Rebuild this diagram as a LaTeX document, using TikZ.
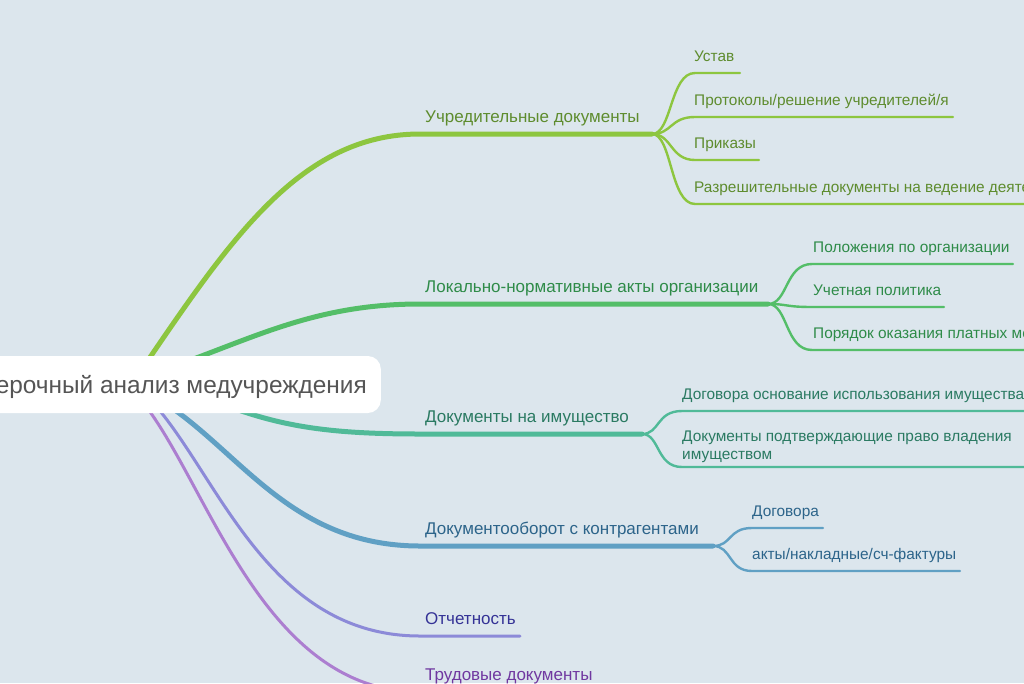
\documentclass[tikz,border=0pt]{standalone}
\usepackage{fontspec}
\setmainfont{Liberation Sans}
\definecolor{bgc}{RGB}{220,230,237}
\definecolor{ca}{RGB}{141,198,63}\definecolor{ta}{RGB}{94,140,46}
\definecolor{cb}{RGB}{84,190,104}\definecolor{tb}{RGB}{46,139,72}
\definecolor{cc}{RGB}{80,186,152}\definecolor{tc}{RGB}{42,122,98}
\definecolor{cd}{RGB}{96,160,196}\definecolor{td}{RGB}{44,100,138}
\definecolor{ce}{RGB}{140,138,216}\definecolor{te}{RGB}{52,50,150}
\definecolor{cf}{RGB}{172,126,208}\definecolor{tf}{RGB}{112,56,160}
\definecolor{roottext}{RGB}{85,85,85}
\begin{document}
\begin{tikzpicture}[x=1pt,y=-1pt,
  brline/.style={line width=5pt,line cap=round},
  thinbr/.style={line width=3pt,line cap=round},
  chline/.style={line width=2.4pt,line cap=round},
  mainlbl/.style={anchor=base west,inner sep=0pt,font=\fontsize{17}{20}\selectfont},
  chlbl/.style={anchor=base west,inner sep=0pt,font=\fontsize{15.4}{18}\selectfont,align=left}]
\fill[bgc] (0,0) rectangle (1024,683);
\useasboundingbox (0,0) rectangle (1024,683);

% root anchor points
\coordinate (ra) at (140,372);
\coordinate (rb) at (180,364);
\coordinate (rc) at (200,395);
\coordinate (rd) at (160,400);
\coordinate (re) at (155,405);
\coordinate (rf) at (145,405);

% branch fork coordinates
\coordinate (fa) at (652,134);
\coordinate (fb) at (768,304);
\coordinate (fc) at (642,434);
\coordinate (fd) at (713,546);
\coordinate (fe) at (520,636);
\coordinate (ff) at (600,692);

% main branches
\draw[brline,ca] (ra) .. controls (230,240) and (300,134) .. (420,134) -- (fa);
\draw[brline,cb] (rb) .. controls (260,335) and (320,304) .. (420,304) -- (fb);
\draw[brline,cc] (rc) .. controls (270,425) and (320,434) .. (420,434) -- (fc);
\draw[brline,cd] (rd) .. controls (240,450) and (290,546) .. (420,546) -- (fd);
\draw[thinbr,ce] (re) .. controls (220,480) and (270,636) .. (420,636) -- (fe);
\draw[thinbr,cf] (rf) .. controls (210,490) and (265,692) .. (420,692) -- (ff);

% main labels
\node[mainlbl,text=ta] (na) at (425,122) {Учредительные документы};
\node[mainlbl,text=tb] (nb) at (425,292) {Локально-нормативные акты организации};
\node[mainlbl,text=tc] (nc) at (425,422) {Документы на имущество};
\node[mainlbl,text=td] (nd) at (425,534) {Документооборот с контрагентами};
\node[mainlbl,text=te] (ne) at (425,624) {Отчетность};
\node[mainlbl,text=tf] (nf) at (425,680) {Трудовые документы};

% children of A
\coordinate (a1) at (740,73);
\coordinate (a2) at (953,117);
\coordinate (a3) at (759,160);
\coordinate (a4) at (1040,204);
\foreach \e/\y in {a1/73,a2/117,a3/160,a4/204}
  \draw[chline,ca] (fa) .. controls (672,134) and (670,\y) .. (695,\y) -- (\e);
\node[chlbl,text=ta] (na1) at (694,61) {Устав};
\node[chlbl,text=ta] (na2) at (694,105) {Протоколы/решение учредителей/я};
\node[chlbl,text=ta] (na3) at (694,148) {Приказы};
\node[chlbl,text=ta] (na4) at (694,192) {Разрешительные документы на ведение деяте};

% children of B
\coordinate (b1) at (1013,264);
\coordinate (b2) at (944,307);
\coordinate (b3) at (1040,350);
\foreach \e/\y in {b1/264,b2/307,b3/350}
  \draw[chline,cb] (fb) .. controls (788,304) and (785,\y) .. (812,\y) -- (\e);
\node[chlbl,text=tb] (nb1) at (813,252) {Положения по организации};
\node[chlbl,text=tb] (nb2) at (813,295) {Учетная политика};
\node[chlbl,text=tb] (nb3) at (813,338) {Порядок оказания платных ме};

% children of C
\coordinate (c1) at (1040,411);
\coordinate (c2) at (1040,467);
\foreach \e/\y in {c1/411,c2/467}
  \draw[chline,cc] (fc) .. controls (660,434) and (656,\y) .. (682,\y) -- (\e);
\node[chlbl,text=tc] (nc1) at (682,399) {Договора основание использования имущества};
\node[chlbl,text=tc] (nc2) at (682,459) {Документы подтверждающие право владения\\имуществом};

% children of D
\coordinate (d1) at (823,528);
\coordinate (d2) at (960,571);
\foreach \e/\y in {d1/528,d2/571}
  \draw[chline,cd] (fd) .. controls (732,546) and (728,\y) .. (752,\y) -- (\e);
\node[chlbl,text=td] (nd1) at (752,516) {Договора};
\node[chlbl,text=td] (nd2) at (752,559) {акты/накладные/сч-фактуры};

% root
\node[fill=white,rounded corners=13pt,anchor=east,inner xsep=14pt,inner ysep=14pt,
      text height=23pt,text depth=6pt,font=\fontsize{24.4}{28}\selectfont,text=roottext]
      (root) at (381,384.5) {ерочный анализ медучреждения};
\end{tikzpicture}
\end{document}
